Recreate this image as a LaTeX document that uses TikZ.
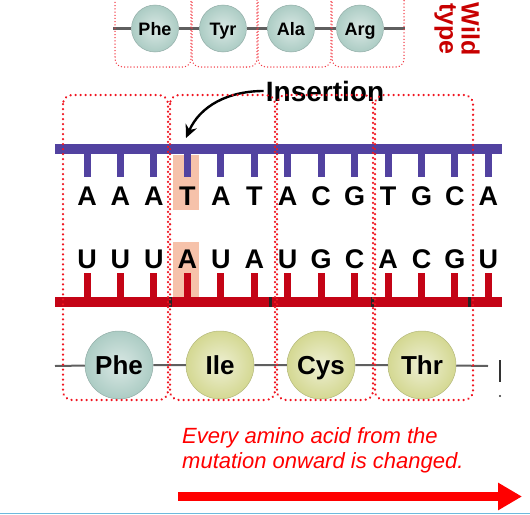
\documentclass[tikz,border=0pt]{standalone}
\usepackage{fontspec}
\setmainfont{Liberation Sans}
\usetikzlibrary{arrows.meta}
\definecolor{dnapurple}{RGB}{82,66,160}
\definecolor{rnared}{RGB}{196,4,22}
\definecolor{boxred}{RGB}{240,20,32}
\definecolor{hilite}{RGB}{246,194,170}
\definecolor{pheteal}{RGB}{172,204,196}
\definecolor{aagreen}{RGB}{212,216,146}
\definecolor{wildred}{RGB}{200,0,0}
\definecolor{edgeblue}{RGB}{110,185,220}
\definecolor{chaingray}{RGB}{95,95,95}
\tikzset{
	codonbox/.style={boxred, line width=2.5pt, line cap=round, dash pattern=on 0.01pt off 5pt, rounded corners=9pt},
	smallbox/.style={boxred!85!white, line width=1.5pt, line cap=round, dash pattern=on 0.01pt off 3.2pt, rounded corners=8pt},
	nucleo/.style={inner sep=0pt, anchor=base, font=\fontsize{27}{27}\selectfont\bfseries},
	aabig/.style={circle, minimum size=68pt, inner sep=0pt, line width=0.5pt, shading=radial, text height=18.6pt, text depth=0pt, font=\fontsize{26}{26}\selectfont\bfseries},
	aasmall/.style={circle, minimum size=47pt, inner sep=0pt, line width=0.5pt, shading=radial, inner color=pheteal!45!white, outer color=pheteal, draw=pheteal!85!black, text height=13pt, text depth=0pt, font=\fontsize{18}{18}\selectfont\bfseries},
	tealaa/.style={inner color=pheteal!45!white, outer color=pheteal, draw=pheteal!85!black},
	greenaa/.style={inner color=aagreen!40!white, outer color=aagreen, draw=aagreen!85!black},
	chain/.style={chaingray, line width=2pt}
}

\begin{document}
\begin{tikzpicture}[x=1pt, y=-1pt]
	%%%%% START %%%%%
	\useasboundingbox (0,0) rectangle (530,514);
	\clip (0,0) rectangle (530,514);
	
	%%% wild type chain
	\coordinate (t0) at (113,28.5);
	\coordinate (t5) at (405,28.5);
	\node[aasmall] (wphe) at (155,28.5) {Phe};
	\node[aasmall] (wtyr) at (223,28.5) {Tyr};
	\node[aasmall] (wala) at (291,28.5) {Ala};
	\node[aasmall] (warg) at (360,28.5) {Arg};
	\draw[chain, line width=2.5pt] (t0) -- (wphe) -- (wtyr) -- (wala) -- (warg) -- (t5);
	
	\draw[smallbox] (115,-12) rectangle (191,67);
	\draw[smallbox] (192,-12) rectangle (257,67);
	\draw[smallbox] (258,-12) rectangle (331,67);
	\draw[smallbox] (332,-12) rectangle (404,67);
	
	\node[rotate=-90, align=center, text=wildred, inner sep=0pt, font=\fontsize{25}{22}\selectfont\bfseries] (wild) at (457,29) {Wild\\type};
	
	%%% highlights
	\fill[hilite] (173,155) rectangle (199,210);
	\fill[hilite] (173,242) rectangle (199,297);
	
	%%% DNA strand
	\fill[dnapurple] (55,144) rectangle (502,154);
	\foreach \b [count=\i from 0] in {A,A,A,T,A,T,A,C,G,T,G,C,A}{
		\fill[dnapurple] ({87+33.45*\i-3.5},154) rectangle ({87+33.45*\i+3.5},177);
		\node[nucleo] (d\i) at ({87+33.45*\i},205) {\b};
	}
	
	%%% mRNA strand
	\fill[rnared] (55,297) rectangle (502,307);
	\foreach \b [count=\i from 0] in {U,U,U,A,U,A,U,G,C,A,C,G,U}{
		\fill[rnared] ({87+33.45*\i-3.5},273) rectangle ({87+33.45*\i+3.5},297);
		\node[nucleo] (r\i) at ({87+33.45*\i},268) {\b};
	}
	\fill[black!85] (169,297) rectangle (171.5,307);
	\fill[black!85] (269,297) rectangle (271.5,307);
	\fill[black!85] (371,297) rectangle (373.5,307);
	\fill[black!85] (468,297) rectangle (470.5,307);
	
	%%% mutant chain
	\coordinate (c0) at (55,366);
	\coordinate (c5) at (488,366);
	\node[aabig, tealaa] (phe) at (119,365) {Phe};
	\node[aabig, greenaa] (ile) at (220,365) {Ile};
	\node[aabig, greenaa] (cys) at (321,365) {Cys};
	\node[aabig, greenaa] (thr) at (422,365) {Thr};
	\draw[chain] (c0) -- (phe) -- (ile) -- (cys) -- (thr) -- (c5);
	
	\fill[black!80] (499,360) rectangle (501,382);
	\fill[black!80] (500,396) circle (1.2);
	
	%%% insertion label
	\node[anchor=base, inner sep=2pt, font=\fontsize{28}{28}\selectfont\bfseries] (ins) at (325,101) {Insertion};
	\coordinate (instip) at (186,138);
	\draw[line width=2.4pt, -{Stealth[length=13pt, width=12pt]}] (ins.west) .. controls (228,91) and (200,106) .. (instip);
	
	%%% codon boxes
	\draw[codonbox] (63,95) rectangle (168,400);
	\draw[codonbox] (170,95) rectangle (275,400);
	\draw[codonbox] (277,95) rectangle (373,400);
	\draw[codonbox] (375,95) rectangle (473,400);
	
	%%% note and arrow
	\node[anchor=north west, inner sep=0pt, align=left, text=red, font=\fontsize{22}{25}\selectfont\itshape] (note) at (182,427) {Every amino acid from the\\mutation onward is changed.};
	\coordinate (arrS) at (178,496.5);
	\coordinate (arrE) at (522,496.5);
	\draw[red, line width=9pt, -{Triangle[length=24pt, width=26pt]}] (arrS) -- (arrE);
	
	\draw[edgeblue, line width=1.2pt] (0,513.4) -- (530,513.4);
	%%%%% END %%%%%
\end{tikzpicture}
\end{document}
